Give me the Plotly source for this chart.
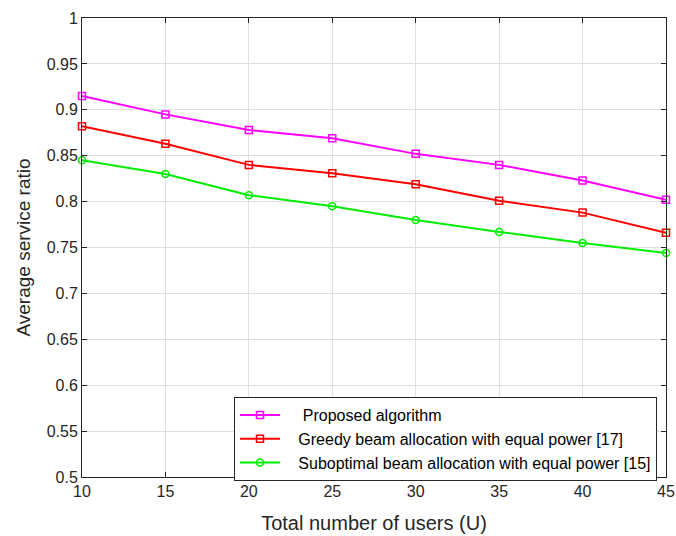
import plotly.graph_objects as go

users = [10, 15, 20, 25, 30, 35, 40, 45]
proposed = [0.915, 0.895, 0.878, 0.869, 0.852, 0.840, 0.823, 0.802]
greedy = [0.882, 0.863, 0.840, 0.831, 0.819, 0.801, 0.788, 0.766]
subopt = [0.845, 0.830, 0.807, 0.795, 0.780, 0.767, 0.755, 0.744]

names = ["\u00a0\u00a0\u00a0\u00a0Proposed algorithm",
         "\u00a0\u00a0\u00a0Greedy beam allocation with equal power [17]",
         "\u00a0\u00a0\u00a0Suboptimal beam allocation with equal power [15]"]

x_ticks = [10, 15, 20, 25, 30, 35, 40, 45]
y_ticks = [0.5, 0.55, 0.6, 0.65, 0.7, 0.75, 0.8, 0.85, 0.9, 0.95, 1]
y_labels = ["0.5", "0.55", "0.6", "0.65", "0.7", "0.75", "0.8", "0.85", "0.9", "0.95", "1"]

fig = go.Figure()
series = [(proposed, "#ff00ff", "square-open"),
          (greedy, "#ff0000", "square-open"),
          (subopt, "#00ee00", "circle-open")]
for (vals, col, sym), nm in zip(series, names):
    fig.add_trace(go.Scatter(
        x=users, y=vals, mode="lines+markers", name=nm,
        line=dict(color=col, width=2),
        marker=dict(symbol=sym, size=7, color=col, line=dict(color=col, width=1.5)),
        cliponaxis=False,
    ))

axis_common = dict(
    showline=True, mirror="ticks", linecolor="#262626", linewidth=1,
    ticks="inside", ticklen=5, tickcolor="#262626",
    showgrid=True, gridcolor="#e0e0e0", gridwidth=1,
    zeroline=False, automargin=False,
    tickfont=dict(family="Liberation Sans, Arial", size=16, color="#262626"),
)

fig.update_layout(
    width=676, height=536,
    margin=dict(l=82, r=10, t=18, b=59),
    paper_bgcolor="white", plot_bgcolor="white",
    font=dict(family="Liberation Sans, Arial", color="#262626"),
    xaxis=dict(range=[10, 45], tickvals=x_ticks,
               title=dict(text="Total number of users (U)", font=dict(size=20), standoff=16),
               **axis_common),
    yaxis=dict(range=[0.5, 1], tickvals=y_ticks, ticktext=y_labels,
               title=dict(text="Average service ratio", font=dict(size=19), standoff=11),
               **axis_common),
    legend=dict(x=(234 - 82) / 584, y=(477 - 397) / 459, xanchor="left", yanchor="top",
                bgcolor="white", bordercolor="#262626", borderwidth=1,
                font=dict(size=16, color="black"),
                tracegroupgap=0, itemwidth=40),
    showlegend=True,
)

fig.write_html("out.html")
